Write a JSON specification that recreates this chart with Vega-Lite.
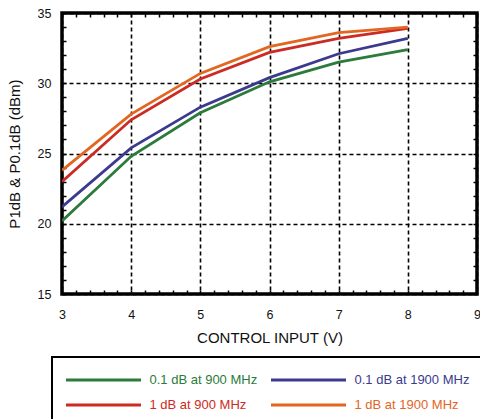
{
  "$schema": "https://vega.github.io/schema/vega-lite/v6.json",
  "width": 415,
  "height": 281,
  "autosize": {"type": "none"},
  "padding": {"left": 62, "top": 13, "right": 3, "bottom": 125},
  "background": "white",
  "config": {
    "view": {"stroke": "black", "strokeWidth": 3.5},
    "font": "Liberation Sans",
    "axis": {"domain": false, "labelFont": "Liberation Sans", "titleFont": "Liberation Sans"}
  },
  "data": {
    "values": [
      {"v": 3, "p": 20.2, "s": "0.1 dB at 900 MHz"},
      {"v": 4, "p": 24.8, "s": "0.1 dB at 900 MHz"},
      {"v": 5, "p": 27.9, "s": "0.1 dB at 900 MHz"},
      {"v": 6, "p": 30.1, "s": "0.1 dB at 900 MHz"},
      {"v": 7, "p": 31.5, "s": "0.1 dB at 900 MHz"},
      {"v": 8, "p": 32.4, "s": "0.1 dB at 900 MHz"},
      {"v": 3, "p": 21.2, "s": "0.1 dB at 1900 MHz"},
      {"v": 4, "p": 25.4, "s": "0.1 dB at 1900 MHz"},
      {"v": 5, "p": 28.3, "s": "0.1 dB at 1900 MHz"},
      {"v": 6, "p": 30.4, "s": "0.1 dB at 1900 MHz"},
      {"v": 7, "p": 32.1, "s": "0.1 dB at 1900 MHz"},
      {"v": 8, "p": 33.2, "s": "0.1 dB at 1900 MHz"},
      {"v": 3, "p": 23.0, "s": "1 dB at 900 MHz"},
      {"v": 4, "p": 27.4, "s": "1 dB at 900 MHz"},
      {"v": 5, "p": 30.3, "s": "1 dB at 900 MHz"},
      {"v": 6, "p": 32.2, "s": "1 dB at 900 MHz"},
      {"v": 7, "p": 33.2, "s": "1 dB at 900 MHz"},
      {"v": 8, "p": 33.9, "s": "1 dB at 900 MHz"},
      {"v": 3, "p": 23.8, "s": "1 dB at 1900 MHz"},
      {"v": 4, "p": 27.8, "s": "1 dB at 1900 MHz"},
      {"v": 5, "p": 30.7, "s": "1 dB at 1900 MHz"},
      {"v": 6, "p": 32.6, "s": "1 dB at 1900 MHz"},
      {"v": 7, "p": 33.6, "s": "1 dB at 1900 MHz"},
      {"v": 8, "p": 34.0, "s": "1 dB at 1900 MHz"}
    ]
  },
  "layer": [
    {
      "mark": {"type": "line", "strokeWidth": 2.8, "clip": true},
      "encoding": {
        "x": {
          "field": "v", "type": "quantitative",
          "scale": {"domain": [3, 9], "nice": false, "zero": false},
          "axis": {
            "orient": "bottom",
            "labelExpr": "'' + round(datum.value)",
            "values": [3, 3.2, 3.4, 3.6, 3.8, 4, 4.2, 4.4, 4.6, 4.8, 5, 5.2, 5.4, 5.6, 5.8, 6, 6.2, 6.4, 6.6, 6.8, 7, 7.2, 7.4, 7.6, 7.8, 8, 8.2, 8.4, 8.6, 8.8, 9],
            "title": "CONTROL INPUT (V)",
            "titleFontSize": 15, "titleFontWeight": "normal", "titleColor": "#111", "titlePadding": 10,
            "grid": true, "gridColor": "black", "gridDash": [4, 3], "gridWidth": 1.6,
            "gridOpacity": {"condition": {"test": "abs(datum.value - round(datum.value)) < 0.01", "value": 1}, "value": 0},
            "labelOpacity": {"condition": {"test": "abs(datum.value - round(datum.value)) < 0.01", "value": 1}, "value": 0},
            "labelOverlap": false, "labelFlush": false,
            "labelFontSize": 12.5, "labelColor": "#111", "labelPadding": 18,
            "tickSize": -4, "tickColor": "black", "tickWidth": 1.5
          }
        },
        "y": {
          "field": "p", "type": "quantitative",
          "scale": {"domain": [15, 35], "nice": false, "zero": false},
          "axis": {
            "orient": "left",
            "values": [15, 16, 17, 18, 19, 20, 21, 22, 23, 24, 25, 26, 27, 28, 29, 30, 31, 32, 33, 34, 35],
            "title": "P1dB & P0.1dB (dBm)",
            "titleFontSize": 15, "titleFontWeight": "normal", "titleColor": "#111", "titlePadding": 15,
            "grid": true, "gridColor": "black", "gridDash": [4, 3], "gridWidth": 1.6,
            "gridOpacity": {"condition": {"test": "datum.value % 5 === 0", "value": 1}, "value": 0},
            "labelOpacity": {"condition": {"test": "datum.value % 5 === 0", "value": 1}, "value": 0},
            "labelOverlap": false, "labelFlush": false,
            "labelFontSize": 12.5, "labelColor": "#111", "labelPadding": 15,
            "tickSize": -4, "tickColor": "black", "tickWidth": 1.5
          }
        },
        "color": {
          "field": "s", "type": "nominal",
          "scale": {
            "domain": ["0.1 dB at 900 MHz", "1 dB at 900 MHz", "0.1 dB at 1900 MHz", "1 dB at 1900 MHz"],
            "range": ["#2b7b3b", "#cc2b23", "#3b3a8e", "#e2661f"]
          },
          "legend": {
            "orient": "none", "legendX": -10, "legendY": 344,
            "title": null, "columns": 2, "columnPadding": 7, "rowPadding": 9,
            "strokeColor": "black", "fillColor": "white", "padding": 14,
            "symbolType": "M-5,0H5", "symbolSize": 225, "symbolStrokeWidth": 3, "symbolOffset": 28.5,
            "labelFontSize": 13, "labelOffset": 37, "labelFont": "Liberation Sans",
            "encode": {
              "legend": {"update": {"strokeWidth": {"value": 2}}},
              "labels": {"update": {"fill": {"scale": "color", "field": "value"}}}
            }
          }
        }
      }
    },
    {
      "mark": {"type": "line", "strokeOpacity": 0},
      "encoding": {
        "x": {
          "field": "v", "type": "quantitative",
          "scale": {"domain": [3, 9], "nice": false, "zero": false},
          "axis": {
            "orient": "top",
            "values": [3, 3.2, 3.4, 3.6, 3.8, 4, 4.2, 4.4, 4.6, 4.8, 5, 5.2, 5.4, 5.6, 5.8, 6, 6.2, 6.4, 6.6, 6.8, 7, 7.2, 7.4, 7.6, 7.8, 8, 8.2, 8.4, 8.6, 8.8, 9],
            "title": null, "labels": false, "grid": false,
            "tickSize": -4, "tickColor": "black", "tickWidth": 1.5
          }
        },
        "y": {
          "field": "p", "type": "quantitative",
          "scale": {"domain": [15, 35], "nice": false, "zero": false},
          "axis": {
            "orient": "right",
            "values": [15, 16, 17, 18, 19, 20, 21, 22, 23, 24, 25, 26, 27, 28, 29, 30, 31, 32, 33, 34, 35],
            "title": null, "labels": false, "grid": false,
            "tickSize": -4, "tickColor": "black", "tickWidth": 1.5
          }
        },
        "detail": {"field": "s", "type": "nominal"}
      }
    }
  ],
  "resolve": {"axis": {"x": "independent", "y": "independent"}}
}
